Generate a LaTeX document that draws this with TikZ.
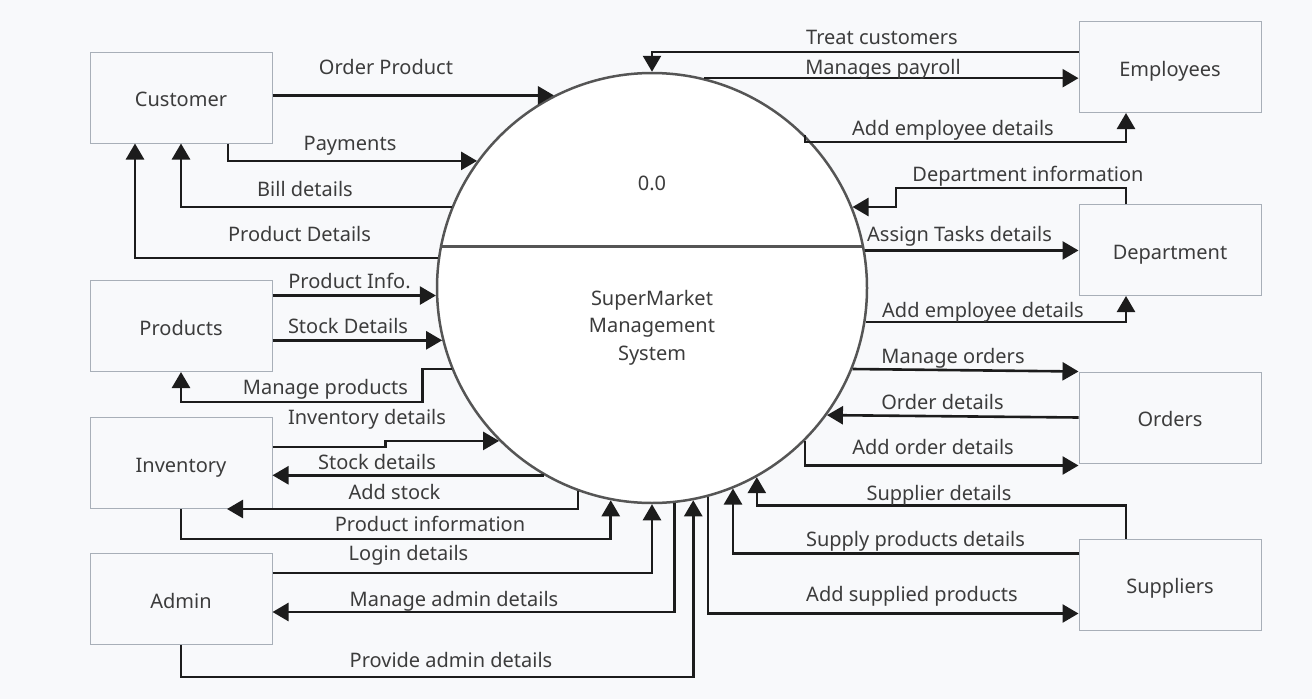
\documentclass[tikz,border=0pt]{standalone}
\usepackage{fontspec}
\setmainfont{Noto Sans}
\usetikzlibrary{arrows.meta,calc}
\definecolor{bg}{HTML}{F8F9FB}
\definecolor{boxline}{HTML}{A8AFB8}
\definecolor{txt}{HTML}{3C3C3C}
\definecolor{flowc}{HTML}{1C1C1C}
\definecolor{circc}{HTML}{555555}
\begin{document}
\begin{tikzpicture}[x=1pt,y=-1pt,
  font=\fontsize{20}{24}\selectfont, text=txt,
  entity/.style={draw=boxline, fill=bg, line width=1pt, minimum width=182pt, minimum height=91pt, inner sep=0pt, text height=18pt, text depth=0pt},
  flow/.style={draw=flowc, line width=2.6pt, -{Triangle[length=16pt,width=18pt]}},
  lbl/.style={inner sep=0pt, text=txt, anchor=base}]
\useasboundingbox (0,0) rectangle (1312,699);
\fill[bg] (0,0) rectangle (1312,699);

% process
\node[circle, draw=circc, fill=white, line width=2.5pt, minimum size=430pt, inner sep=0pt] (c) at (652,288) {};
\draw[draw=circc, line width=2.5pt] (c.169) -- (c.11);
\node[lbl] (t0) at (652,190.5) {0.0};
\node[inner sep=0pt, text=txt, align=center, font=\fontsize{20}{27.5}\selectfont] (tsys) at (652,327.5) {SuperMarket\\Management\\System};

% entities
\node[entity] (cust) at (181,97.5) {Customer};
\node[entity] (prod) at (181,326) {Products};
\node[entity] (inv) at (181,463) {Inventory};
\node[entity] (adm) at (181,599) {Admin};
\node[entity] (emp) at (1170,67) {Employees};
\node[entity] (dep) at (1170,250) {Department};
\node[entity] (ord) at (1170,417.5) {Orders};
\node[entity] (sup) at (1170,584.5) {Suppliers};

% customer flows
\draw[flow] (cust.east |- c.117) -- (c.117);
\draw[flow] ([xshift=47pt]cust.south) |- (c.144);
\draw[flow] (c.158) -| (cust.south);
\draw[flow] (c.172) -| ([xshift=-46pt]cust.south);

% products flows
\draw[flow] (prod.east |- c.182) -- (c.182);
\draw[flow] (prod.east |- c.194) -- (c.194);
\draw[flow] (c.202) -- ++(-29,0) |- ([yshift=-30pt]prod.south) -- (prod.south);

% inventory flows
\draw[flow] ([yshift=16pt]inv.east) -- ++(113,0) |- (c.225);
\draw[flow] (c.240) -- (c.240 -| inv.east);
\draw[flow] (c.250) |- ([xshift=46pt]inv.south);
\draw[flow] (inv.south) -- ++(0,30) -| (c.259);

% admin flows
\draw[flow] ([yshift=26pt]adm.east) -| (c.270);
\draw[flow] (c.276) |- ([yshift=-13pt]adm.east);
\draw[flow] (adm.south) -- ++(0,32) -| (c.281);

% supplier flows
\draw[flow] ([xshift=-44pt]sup.north) -- ++(0,-33) -| (c.299);
\draw[flow] ([yshift=31pt]sup.west) -| (c.292);
\draw[flow] (c.285) |- ([yshift=-29pt]sup.west);

% order flows
\draw[flow] (c.338) -- (ord.north west);
\draw[flow] (ord.west) -- (c.324);
\draw[flow] (c.315) |- ([yshift=-48pt]ord.west);

% department flows
\draw[flow] ([xshift=-44pt]dep.north) -- ++(0,-16) -- ++(-230,0) |- (c.22);
\draw[flow] (c.10) -- (dep.west |- c.10);
\draw[flow] (c.351) -| ([xshift=-44pt]dep.south);

% employee flows
\draw[flow] ([yshift=15pt]emp.west) -| (c.90);
\draw[flow] (c.76) -- (emp.west |- c.76);
\draw[flow] (c.45) -- ++(0,7) -| ([xshift=-44pt]emp.south);

% labels (baseline positions)
\node[lbl] (l1) at (386,74.5) {Order Product};
\node[lbl] (l2) at (350,150.5) {Payments};
\node[lbl] (l3) at (305,196.5) {Bill details};
\node[lbl] (l4) at (299.5,241.5) {Product Details};
\node[lbl] (l5) at (349.5,288.5) {Product Info.};
\node[lbl] (l6) at (348,333.5) {Stock Details};
\node[lbl] (l7) at (325.5,394.5) {Manage products};
\node[lbl] (l8) at (367,424.5) {Inventory details};
\node[lbl] (l9) at (377,469.5) {Stock details};
\node[lbl] (l10) at (394.5,499.5) {Add stock};
\node[lbl] (l11) at (430,531.5) {Product information};
\node[lbl] (l12) at (408.5,560.5) {Login details};
\node[lbl] (l13) at (454,606.5) {Manage admin details};
\node[lbl] (l14) at (451,667.5) {Provide admin details};
\node[lbl] (l15) at (882,44.5) {Treat customers};
\node[lbl] (l16) at (883,74.5) {Manages payroll};
\node[lbl] (l17) at (953,135.5) {Add employee details};
\node[lbl] (l18) at (1028,181.5) {Department information};
\node[lbl] (l19) at (959.5,241.5) {Assign Tasks details};
\node[lbl] (l20) at (983,317.5) {Add employee details};
\node[lbl] (l21) at (953,363.5) {Manage orders};
\node[lbl] (l22) at (942.5,409.5) {Order details};
\node[lbl] (l23) at (933,454.5) {Add order details};
\node[lbl] (l24) at (939,500.5) {Supplier details};
\node[lbl] (l25) at (915.5,546.5) {Supply products details};
\node[lbl] (l26) at (912,601.5) {Add supplied products};
\end{tikzpicture}
\end{document}
